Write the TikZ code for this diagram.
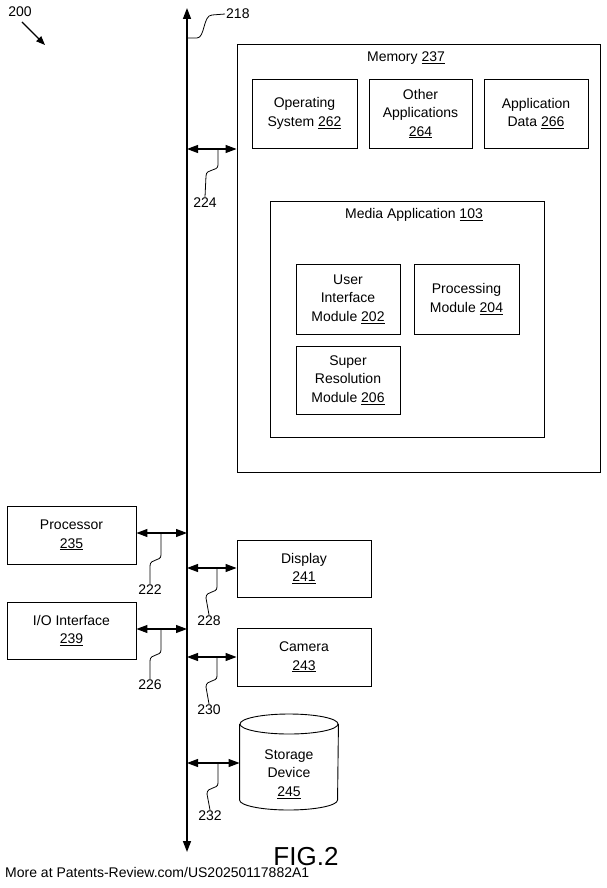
\documentclass[tikz,border=0pt]{standalone}
\usepackage{fontspec}
\setmainfont{Liberation Sans}
\usetikzlibrary{shapes.geometric,arrows.meta}
\begin{document}
\begin{tikzpicture}[x=1pt,y=-1pt,
  box/.style={draw,line width=0.9pt,inner sep=0pt,align=center,font=\fontsize{14}{18.5}\selectfont},
  lbl/.style={font=\fontsize{14}{16}\selectfont,inner sep=1pt},
  dar/.style={{Triangle[length=11pt,width=8pt]}-{Triangle[length=11pt,width=8pt]},line width=1.1pt},
  lead/.style={line width=0.8pt}]
\useasboundingbox (0,0) rectangle (607,888);
% bus
\coordinate (bt) at (187,8);
\coordinate (bb) at (187,852);
\draw[line width=1.5pt,{Triangle[length=11pt,width=8pt]}-{Triangle[length=11pt,width=8pt]}] (bb) -- (bt);
% 200
\node[lbl] (n200) at (20,12) {200};
\coordinate (a200) at (45,45);
\draw[line width=1.1pt,-{Triangle[length=9pt,width=7pt]}] (22,22) -- (a200);
% 218
\node[lbl,anchor=west] (n218) at (225,14) {218};
\draw[lead] (187,38) -- (197,38) .. controls (205,38) and (203,15) .. (212,15) -- (n218.west);
% memory
\node[box,minimum width=363pt,minimum height=428pt] (mem) at (418.5,258) {};
\node[lbl] (memt) at (406,58) {Memory \underline{237}};
\node[box,minimum width=105pt,minimum height=69pt] (os) at (304.5,113.5) {Operating\\System \underline{262}};
\node[box,minimum width=103pt,minimum height=69pt] (oa) at (420.5,113.5) {Other\\Applications\\\underline{264}};
\node[box,minimum width=104pt,minimum height=69pt] (ad) at (536,113.5) {Application\\Data \underline{266}};
\node[box,minimum width=274pt,minimum height=236pt] (ma) at (407,319) {};
\node[lbl] (mat) at (414,215) {Media Application \underline{103}};
\node[box,minimum width=104pt,minimum height=70pt] (ui) at (348,299) {User\\Interface\\Module \underline{202}};
\node[box,minimum width=105pt,minimum height=70pt] (pm) at (466.5,299) {Processing\\Module \underline{204}};
\node[box,minimum width=104pt,minimum height=68pt] (sr) at (348,380) {Super\\Resolution\\Module \underline{206}};
% left boxes
\node[box,minimum width=129pt,minimum height=58pt] (proc) at (71.5,535) {Processor\\\underline{235}};
\node[box,minimum width=129pt,minimum height=57pt] (io) at (71.5,630.5) {I/O Interface\\\underline{239}};
% right boxes
\node[box,minimum width=134pt,minimum height=57pt] (disp) at (304,568.5) {Display\\\underline{241}};
\node[box,minimum width=134pt,minimum height=58pt] (cam) at (304,657) {Camera\\\underline{243}};
% storage cylinder
\node[box,draw=none,minimum width=98pt,minimum height=96pt] (sto) at (289,762) {};
\draw[line width=0.9pt] (sto.west |- 0,724) -- (sto.west |- 0,800)
  arc[start angle=180,end angle=360,x radius=49pt,y radius=10pt] -- (sto.east |- 0,724);
\draw[line width=0.9pt] (289,724) ellipse[x radius=49pt,y radius=10pt];
\node[box,draw=none] (stot) at (289,774) {Storage\\Device\\\underline{245}};
% arrows
\coordinate (b224) at (187,149);
\draw[dar] (b224) -- (mem.west |- b224);
\coordinate (b222) at (187,533);
\draw[dar] (proc.east |- b222) -- (b222);
\coordinate (b226) at (187,629);
\draw[dar] (io.east |- b226) -- (b226);
\coordinate (b228) at (187,568);
\draw[dar] (b228) -- (disp.west |- b228);
\coordinate (b230) at (187,657);
\draw[dar] (b230) -- (cam.west |- b230);
\coordinate (b232) at (187,763);
\draw[dar] (b232) -- (sto.west |- b232);
% leaders
\node[lbl] (n224) at (205,203) {224};
\draw[lead] (218,149) -- (218,165) .. controls (218,172) and (206,168) .. (206,176) -- (n224.north);
\node[lbl] (n222) at (150,590) {222};
\draw[lead] (161,533) -- (161,555) .. controls (161,562) and (150,558) .. (150,566) -- (n222.north);
\node[lbl] (n226) at (150,685) {226};
\draw[lead] (161,629) -- (161,650) .. controls (161,657) and (150,653) .. (150,661) -- (n226.north);
\node[lbl] (n228) at (209,621) {228};
\draw[lead] (217,568) -- (217,587) .. controls (217,594) and (206,590) .. (206,598) -- (n228.north);
\node[lbl] (n230) at (209,710) {230};
\draw[lead] (217,657) -- (217,676) .. controls (217,683) and (206,679) .. (206,687) -- (n230.north);
\node[lbl] (n232) at (210,816) {232};
\draw[lead] (218,763) -- (218,783) .. controls (218,790) and (207,786) .. (207,794) -- (n232.north);
% footer
\node[font=\fontsize{26}{28}\selectfont] (fig) at (306,857) {FIG.2};
\node[anchor=west,font=\fontsize{14}{16}\selectfont,inner sep=0pt] (wm) at (5,872) {More at Patents-Review.com/US20250117882A1};
\end{tikzpicture}
\end{document}
